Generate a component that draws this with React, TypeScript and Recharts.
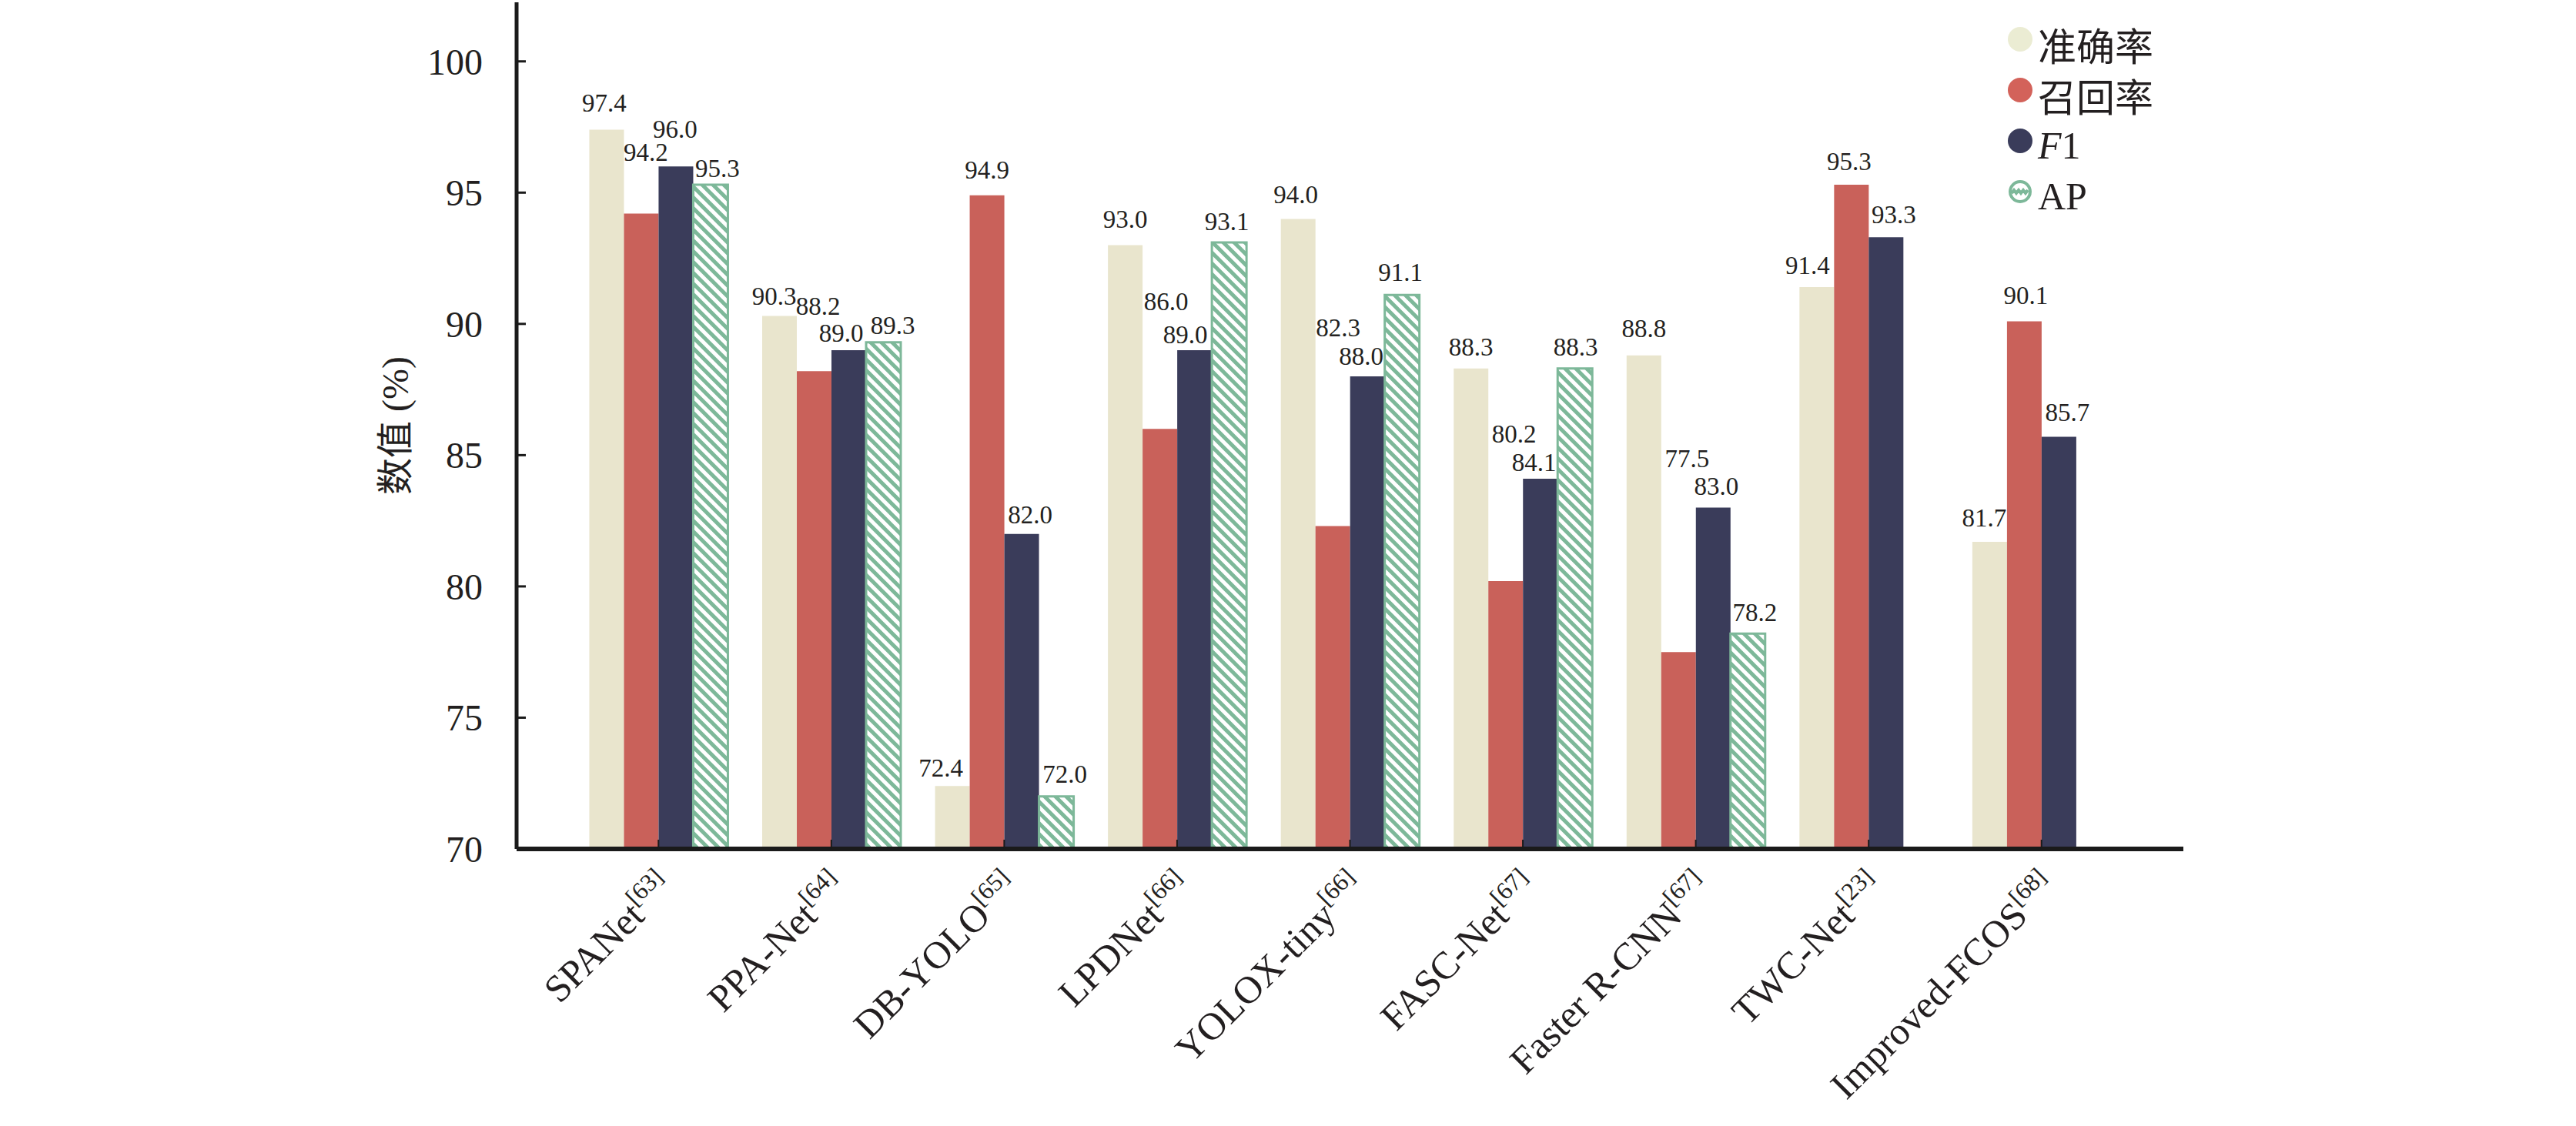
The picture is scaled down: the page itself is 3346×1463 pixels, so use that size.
import React from "react";
import { BarChart, Bar, XAxis, YAxis, Legend, LabelList } from "recharts";

// categories and reference numbers (shown as superscripts)
const methods = ["SPANet", "PPA-Net", "DB-YOLO", "LPDNet", "YOLOX-tiny", "FASC-Net", "Faster R-CNN", "TWC-Net", "Improved-FCOS"];
const refs = ["63", "64", "65", "66", "66", "67", "67", "23", "68"];

// series values (%)
const accuracy = [97.4, 90.3, 72.4, 93.0, 94.0, 88.3, 88.8, 91.4, 81.7];
const recall = [94.2, 88.2, 94.9, 86.0, 82.3, 80.2, 77.5, 95.3, 90.1];
const f1 = [96.0, 89.0, 82.0, 89.0, 88.0, 84.1, 83.0, 93.3, 85.7];
const ap = [95.3, 89.3, 72.0, 93.1, 91.1, 88.3, 78.2, null, null];

const yTicks = [70, 75, 80, 85, 90, 95, 100];
const seriesOrder = ["acc", "rec", "f1", "ap"];

// label nudges (px): lift above the bar top and sideways shift, so neighbours don't collide
const accLift = [23, 15, 12, 23, 20, 17, 24, 17, 20];
const recLift = [69, 73, 22, 154, 246, 180, 240, 19, 22];
const f1Lift = [37, 11, 14, 9, 15, 10, 17, 18, 20];
const apLift = [10, 11, 18, 16, 18, 17, 16, 0, 0];
const accShift = [-3, -7, -15, 0, -3, 0, 0, -12, -7];
const recShift = [6, 5, 0, 8, 7, 11, 11, -3, 2];
const f1Shift = [-1, -10, 11, -12, -8, -8, 4, 10, 11];
const apShift = [9, 12, 11, -3, -2, 1, 9, 0, 0];

const data = methods.map((name, i) => ({
  name,
  acc: accuracy[i],
  rec: recall[i],
  f1: f1[i],
  ap: ap[i],
}));

const FONT = '"Liberation Serif", "Times New Roman", "Noto Sans CJK SC", serif';
const INK = "#231F20";
const BEIGE = "#E9E5CD";
const RED = "#C9615A";
const NAVY = "#3A3C5A";
const GREEN = "#7DB899";

const makeLabel = (lifts: number[], shifts: number[]) => (props: any) => {
  const { x, y, width, value, index } = props;
  if (value === null || value === undefined) return null;
  return (
    <text
      x={Number(x) + Number(width) / 2 + shifts[index]}
      y={Number(y) - lifts[index]}
      textAnchor="middle"
      fontSize={33}
      fontFamily={FONT}
      fill={INK}
    >
      {Number(value).toFixed(1)}
    </text>
  );
};

const MethodTick = (props: any) => {
  const { x, y, payload, index } = props;
  return (
    <g transform={`translate(${x + 22},${y + 52}) rotate(-45)`}>
      <text textAnchor="end" fontSize={50} fontFamily={FONT} fill={INK}>
        {payload.value}
        <tspan fontSize={32} dy={-20}>[{refs[index]}]</tspan>
      </text>
    </g>
  );
};

const YTitle = (props: any) => {
  const { x, y, width, height } = props.viewBox;
  const cx = x + width - 158;
  const cy = y + height / 2;
  return (
    <text
      x={cx}
      y={cy}
      transform={`rotate(-90 ${cx} ${cy})`}
      textAnchor="middle"
      dominantBaseline="central"
      fontSize={48}
      fontFamily={FONT}
      fill={INK}
    >
      数值 (%)
    </text>
  );
};

const markerColors: Record<string, string> = { acc: "#EBECD3", rec: "#D3625A", f1: NAVY };

const LegendBox = (props: any) => {
  const items = [...(props.payload || [])].sort(
    (a: any, b: any) => seriesOrder.indexOf(a.dataKey) - seriesOrder.indexOf(b.dataKey)
  );
  return (
    <div style={{ fontFamily: FONT, fontSize: 50, color: INK }}>
      {items.map((entry: any) => (
        <div key={entry.dataKey} style={{ display: "flex", alignItems: "center", height: 66 }}>
          <svg width={34} height={34} style={{ marginRight: 6 }}>
            {entry.dataKey === "ap" ? (
              <g>
                <circle cx={17} cy={17} r={13} fill="#fff" stroke={GREEN} strokeWidth={4} />
                <path d="M6,19 l3,-4 l3,4 l3,-4 l3,4 l3,-4 l3,4 l3,-4" fill="none" stroke={GREEN} strokeWidth={4} />
              </g>
            ) : (
              <circle cx={17} cy={17} r={16} fill={markerColors[entry.dataKey]} />
            )}
          </svg>
          <span style={{ marginTop: 12 }}>
            {entry.dataKey === "f1" ? (
              <>
                <i>F</i>1
              </>
            ) : (
              entry.value
            )}
          </span>
        </div>
      ))}
    </div>
  );
};

export default function App() {
  return (
    <div style={{ position: "absolute", left: 0, top: 0, background: "#fff" }}>
      <BarChart
        width={3346}
        height={1463}
        data={data}
        margin={{ top: 3, right: 510, bottom: 0, left: 0 }}
        barCategoryGap="10%"
        barGap={0}
      >
        <defs>
          <pattern id="apHatch" patternUnits="userSpaceOnUse" width={14} height={14}>
            <rect width={14} height={14} fill="#fff" />
            <path d="M-2,12 l4,4 M0,0 l14,14 M12,-2 l4,4" stroke={GREEN} strokeWidth={5} />
          </pattern>
        </defs>
        <XAxis
          dataKey="name"
          interval={0}
          height={360}
          padding={{ left: 72, right: 72 }}
          axisLine={{ stroke: "#1a1a1a", strokeWidth: 6 }}
          tickLine={{ stroke: "#1a1a1a", strokeWidth: 2 }}
          tickSize={-12}
          tickMargin={12}
          tick={<MethodTick />}
        />
        <XAxis
          xAxisId="frame"
          orientation="top"
          height={0}
          tick={false}
          tickLine={false}
          axisLine={{ stroke: "#1a1a1a", strokeWidth: 4 }}
        />
        <YAxis
          width={671}
          domain={[70, 102.25]}
          ticks={yTicks}
          allowDataOverflow
          axisLine={{ stroke: "#1a1a1a", strokeWidth: 5 }}
          tickLine={{ stroke: "#1a1a1a", strokeWidth: 3 }}
          tickSize={-12}
          tickMargin={56}
          tick={{ fontSize: 48, fontFamily: FONT, fill: INK }}
          label={<YTitle />}
        />
        <YAxis
          yAxisId="frame"
          orientation="right"
          width={0}
          domain={[70, 102.25]}
          tick={false}
          tickLine={false}
          axisLine={{ stroke: "#1a1a1a", strokeWidth: 4 }}
        />
        <Legend
          layout="vertical"
          align="center"
          verticalAlign="middle"
          wrapperStyle={{ left: 2607, top: 18, width: 240 }}
          content={<LegendBox />}
        />
        <Bar dataKey="acc" name="准确率" fill={BEIGE} isAnimationActive={false}>
          <LabelList dataKey="acc" content={makeLabel(accLift, accShift)} />
        </Bar>
        <Bar dataKey="rec" name="召回率" fill={RED} isAnimationActive={false}>
          <LabelList dataKey="rec" content={makeLabel(recLift, recShift)} />
        </Bar>
        <Bar dataKey="f1" name="F1" fill={NAVY} isAnimationActive={false}>
          <LabelList dataKey="f1" content={makeLabel(f1Lift, f1Shift)} />
        </Bar>
        <Bar dataKey="ap" name="AP" fill="url(#apHatch)" stroke={GREEN} strokeWidth={3} isAnimationActive={false}>
          <LabelList dataKey="ap" content={makeLabel(apLift, apShift)} />
        </Bar>
      </BarChart>
    </div>
  );
}
